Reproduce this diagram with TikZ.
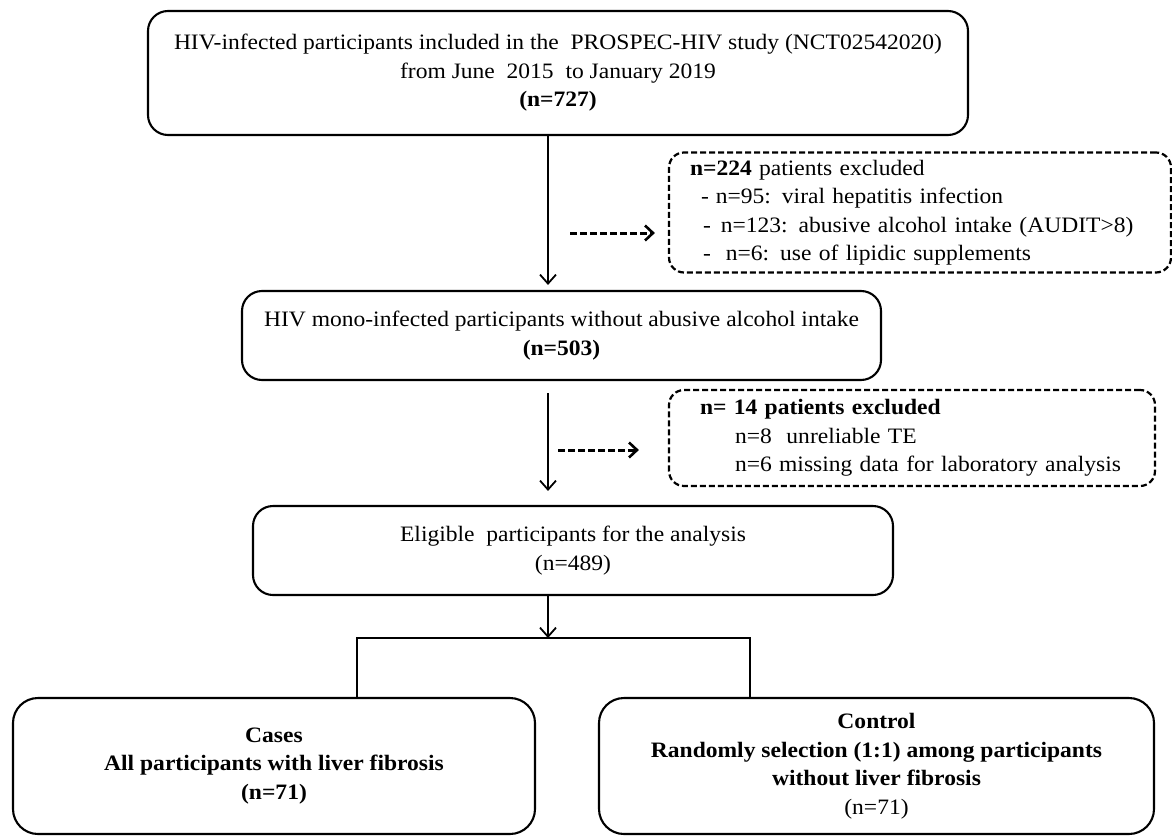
\documentclass[tikz,border=0pt]{standalone}
\usepackage{fontspec}
\setmainfont[FakeStretch=1.07]{Liberation Serif}
\usetikzlibrary{arrows.meta}
\newcommand{\mainsz}{\fontsize{22}{28.5}\selectfont}
\tikzset{
  box/.style={draw, line width=2.1pt, rounded corners=20pt, align=center, inner sep=0pt, font=\mainsz},
  dbox/.style={draw, line width=2.2pt, dash pattern=on 6pt off 3pt, rounded corners=15pt, align=left, inner sep=0pt, font=\mainsz},
  conn/.style={line width=1.8pt, -{Straight Barb[length=9pt,width=16pt,line width=1.8pt]}},
  dconn/.style={line width=3pt, dash pattern=on 7pt off 3pt, -{Straight Barb[length=8pt,width=15pt,line width=2.6pt]}},
  link/.style={line width=1.7pt}
}
\begin{document}
\begin{tikzpicture}[x=1pt,y=-1pt]
\useasboundingbox (0,0) rectangle (1172,835);

\node[box, minimum width=820pt, minimum height=124pt] (top) at (558,73)
  {HIV-infected participants included in the\ \ PROSPEC-HIV study (NCT02542020)\\
   from June\ \ 2015\ \ to January 2019\\
   \textbf{(n=727)}};

\node[dbox, minimum width=502pt, minimum height=120pt, text width=460pt] (excl1) at (920,212.5)
  {\textbf{n=224} patients excluded\\
   \hspace*{11pt}-\hspace{7pt}n=95: viral hepatitis infection\\
   \hspace*{13pt}-\hspace{10pt}n=123: abusive alcohol intake (AUDIT>8)\\
   \hspace*{13pt}-\hspace{15pt}n=6: use of lipidic supplements};

\node[box, minimum width=639pt, minimum height=89pt] (mid) at (561.5,335.5)
  {HIV mono-infected participants without abusive alcohol intake\\
   \textbf{(n=503)}};

\node[dbox, minimum width=486pt, minimum height=96pt, text width=424pt] (excl2) at (912,438)
  {\textbf{n= 14 patients excluded}\\
   \hspace*{35pt}n=8\ \ unreliable TE\\
   \hspace*{35pt}n=6 missing data for laboratory analysis};

\node[box, minimum width=640pt, minimum height=89pt] (elig) at (573,550.5)
  {Eligible\ \ participants for the analysis\\
   (n=489)};

\node[box, rounded corners=25pt, minimum width=522pt, minimum height=136pt] (cases) at (274,766)
  {\textbf{Cases}\\
   \textbf{All participants with liver fibrosis}\\
   \textbf{(n=71)}};

\node[box, rounded corners=25pt, minimum width=555pt, minimum height=136pt] (ctrl) at (876.5,766)
  {\textbf{Control}\\
   \textbf{Randomly selection (1:1) among participants}\\
   \textbf{without liver fibrosis}\\
   (n=71)};

\coordinate (sp) at (548,0);
\coordinate (d1) at (570,233);
\coordinate (d2) at (558,450);
\coordinate (split) at (548,638);
\coordinate (bl) at (357,638);
\coordinate (br) at (750,638);

\draw[conn, shorten >=5pt] (top.south -| sp) -- (mid.north -| sp);
\draw[dconn, shorten >=13pt] (d1) -- (d1 -| excl1.west);
\draw[conn, shorten <=12pt, shorten >=14pt] (mid.south -| sp) -- (elig.north -| sp);
\draw[dconn, shorten >=29pt] (d2) -- (d2 -| excl2.west);
\draw[conn] (elig.south -| sp) -- (split);
\draw[link] (cases.north -| bl) -- (bl) -- (br) -- (ctrl.north -| br);
\end{tikzpicture}
\end{document}
